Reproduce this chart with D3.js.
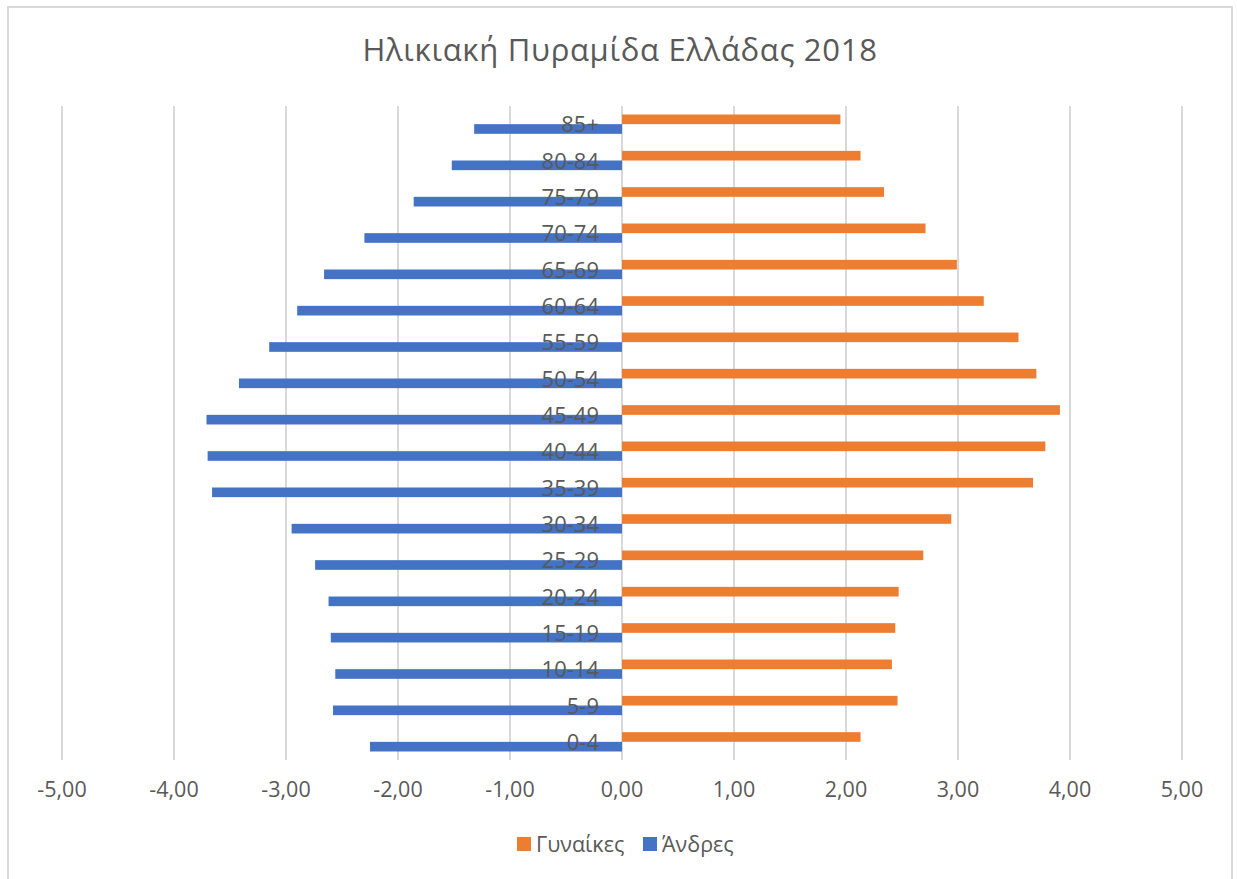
<!DOCTYPE html>
<html>
<head>
<meta charset="utf-8">
<script src="https://cdn.jsdelivr.net/npm/d3@7"></script>
<style>
  html, body { margin: 0; padding: 0; background: #fff; }
  svg { display: block; font-family: "Open Sans", "Noto Sans", sans-serif; }
</style>
</head>
<body>
<svg id="chart" width="1237" height="879"></svg>
<script>
// ---- data ----
const title = "Ηλικιακή Πυραμίδα Ελλάδας 2018";
const ageGroups = ["85+", "80-84", "75-79", "70-74", "65-69", "60-64", "55-59", "50-54", "45-49",
                   "40-44", "35-39", "30-34", "25-29", "20-24", "15-19", "10-14", "5-9", "0-4"];
const seriesNames = ["Γυναίκες", "Άνδρες"];
const women = [1.95, 2.13, 2.34, 2.71, 2.99, 3.23, 3.54, 3.70, 3.91,
               3.78, 3.67, 2.94, 2.69, 2.47, 2.44, 2.41, 2.46, 2.13];
const men = [-1.32, -1.52, -1.86, -2.30, -2.66, -2.90, -3.15, -3.42, -3.71,
             -3.70, -3.66, -2.95, -2.74, -2.62, -2.60, -2.56, -2.58, -2.25];
const xTicks = [-5, -4, -3, -2, -1, 0, 1, 2, 3, 4, 5];
const seriesColors = ["#ED7D31", "#4472C4"];

// ---- layout ----
const svg = d3.select("#chart");
const plot = { left: 62, right: 1182, top: 106, bottom: 760 };
const textColor = "#595959";
const gridColor = "#d9d9d9";

// chart border
svg.append("rect")
  .attr("x", 8).attr("y", 7)
  .attr("width", 1224).attr("height", 880)
  .attr("fill", "#fff")
  .attr("stroke", gridColor).attr("stroke-width", 2);

const x = d3.scaleLinear().domain([-5, 5]).range([plot.left, plot.right]);
const y = d3.scaleBand().domain(ageGroups).range([plot.top, plot.bottom]).padding(0);
const barH = 9.65;
const inner = d3.scaleBand().domain(seriesNames)
  .range([y.bandwidth() / 2 - barH, y.bandwidth() / 2 + barH]).padding(0);
const color = d3.scaleOrdinal().domain(seriesNames).range(seriesColors);

// gridlines
svg.append("g").selectAll("line").data(xTicks).join("line")
  .attr("x1", d => x(d)).attr("x2", d => x(d))
  .attr("y1", plot.top).attr("y2", plot.bottom)
  .attr("stroke", gridColor).attr("stroke-width", 2);

// x axis labels
const fmt = v => d3.format(".2f")(v).replace(".", ",").replace("−", "-");
svg.append("g").selectAll("text").data(xTicks).join("text")
  .attr("x", d => x(d)).attr("y", 797)
  .attr("text-anchor", "middle")
  .attr("font-size", 21.5).attr("fill", textColor)
  .text(d => fmt(d));

// bars
const rows = ageGroups.map((g, i) => ({ g, values: [{ s: seriesNames[0], v: women[i] }, { s: seriesNames[1], v: men[i] }] }));
const gRows = svg.append("g").selectAll("g").data(rows).join("g")
  .attr("transform", d => `translate(0,${y(d.g)})`);
gRows.selectAll("rect").data(d => d.values).join("rect")
  .attr("x", d => x(Math.min(0, d.v)))
  .attr("width", d => Math.abs(x(d.v) - x(0)))
  .attr("y", d => inner(d.s))
  .attr("height", inner.bandwidth())
  .attr("fill", d => color(d.s));

// category labels
svg.append("g").selectAll("text").data(ageGroups).join("text")
  .attr("x", 599)
  .attr("y", d => y(d) + y.bandwidth() / 2 + 8)
  .attr("text-anchor", "end")
  .attr("font-size", 22).attr("fill", textColor)
  .text(d => d);

// title
svg.append("text")
  .attr("x", 620).attr("y", 61)
  .attr("text-anchor", "middle")
  .attr("font-size", 31).attr("letter-spacing", 0.7).attr("fill", textColor)
  .text(title);

// legend
const legendItems = [
  { s: seriesNames[0], sx: 517, tx: 536 },
  { s: seriesNames[1], sx: 643, tx: 662 }
];
const lg = svg.append("g");
lg.selectAll("rect").data(legendItems).join("rect")
  .attr("x", d => d.sx).attr("y", 837).attr("width", 14).attr("height", 14)
  .attr("fill", d => color(d.s));
lg.selectAll("text").data(legendItems).join("text")
  .attr("x", d => d.tx).attr("y", 852)
  .attr("font-size", 21.5).attr("fill", textColor)
  .text(d => d.s);
</script>
</body>
</html>
